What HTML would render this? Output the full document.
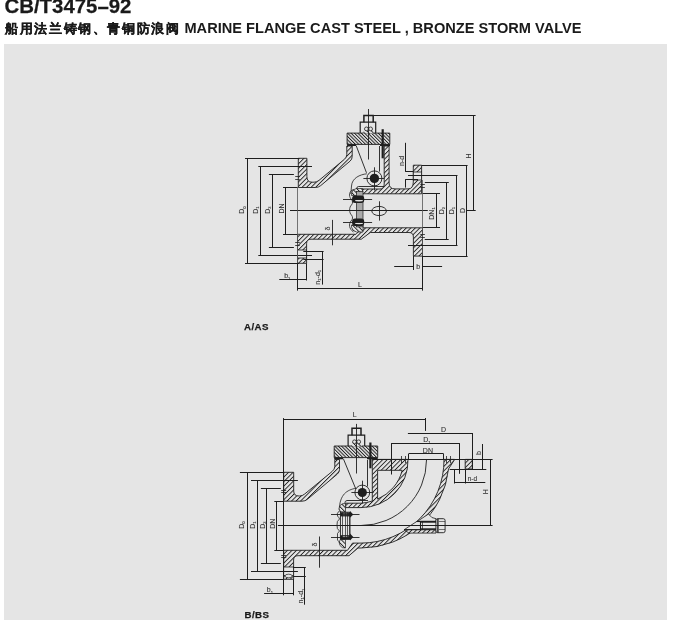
<!DOCTYPE html>
<html><head><meta charset="utf-8">
<style>
html,body{margin:0;padding:0;background:#fff;width:689px;height:620px;overflow:hidden}
body{position:relative;will-change:transform;font-family:"Liberation Sans",sans-serif;color:#1a1a1a}
.t1{position:absolute;left:4.5px;top:-3.6px;font-size:20.4px;font-weight:bold;-webkit-text-stroke:0.25px #1a1a1a;white-space:nowrap;line-height:20px}
.t2{position:absolute;left:4px;top:19px;font-size:14.6px;font-weight:bold;white-space:nowrap;line-height:18px}
.cj{font-size:13.4px;letter-spacing:1.6px;-webkit-text-stroke:0.2px #1a1a1a;margin-left:1.2px}
.box{position:absolute;left:4px;top:44px;width:663px;height:576px;background:#e5e5e5}
.lab{position:absolute;font-size:9.7px;letter-spacing:0.4px;-webkit-text-stroke:0.25px #1a1a1a;font-weight:bold;white-space:nowrap;line-height:10px}
svg{position:absolute;left:0;top:0}
</style></head><body>
<div class="t1">CB/T3475–92</div>
<div class="t2"><span class="cj">船用法兰铸钢、青铜防浪阀</span> MARINE FLANGE CAST STEEL , BRONZE STORM VALVE</div>
<div class="box"></div>
<div class="lab" style="left:244px;top:322.3px">A/AS</div>
<div class="lab" style="left:244.5px;top:610.3px">B/BS</div>
<svg width="689" height="620" viewBox="0 0 689 620" font-family="Liberation Sans, sans-serif">
<defs>
<pattern id="h1" width="3.2" height="3.2" patternUnits="userSpaceOnUse" patternTransform="rotate(45)"><rect width="3.2" height="3.2" fill="#e5e5e5"/><rect x="0" y="0" width="0.9" height="3.2" fill="#1e1e1e"/></pattern>
<pattern id="h2" width="3.2" height="3.2" patternUnits="userSpaceOnUse" patternTransform="rotate(-45)"><rect width="3.2" height="3.2" fill="#e5e5e5"/><rect x="0" y="0" width="0.9" height="3.2" fill="#1e1e1e"/></pattern>
<pattern id="h3" width="2.4" height="2.4" patternUnits="userSpaceOnUse" patternTransform="rotate(-45)"><rect width="2.4" height="2.4" fill="#e5e5e5"/><rect x="0" y="0" width="0.95" height="2.4" fill="#1e1e1e"/></pattern>
</defs>
<path d="M298.3,158.3 H306.9 V176.5 Q306.9,182.2 312,182.2 H314 Q316.8,182.2 319.1,180.3 L344.5,159.2 Q346.8,157.3 346.8,154.5 V146 H352.2 V156.5 Q352.2,159.3 350,161.2 L320.7,185.6 Q318.4,187.5 315.5,187.5 H298.3 Z" fill="url(#h1)" stroke="#1e1e1e" stroke-width="0.9"/>
<path d="M347.1,133.1 H389.8 V144.4 H347.1 Z" fill="url(#h3)" stroke="#1e1e1e" stroke-width="0.9"/>
<rect x="347.1" y="144.2" width="9" height="1.8" fill="#1e1e1e" stroke="none" stroke-width="1"/>
<rect x="380" y="144.2" width="10" height="1.8" fill="#1e1e1e" stroke="none" stroke-width="1"/>
<path d="M384.2,146 H389.1 V183 Q389.1,188.9 395,188.9 H408 Q413.3,188.9 413.3,182 V165.2 H421.6 V193.8 H362 V189 H380 Q384.2,189 384.2,184 Z" fill="url(#h1)" stroke="#1e1e1e" stroke-width="0.9"/>
<rect x="413.3" y="172" width="8.3" height="8" fill="#e5e5e5" stroke="#1e1e1e" stroke-width="0.8"/>
<path d="M297.5,234.3 H356 L362,227.8 H422.5 V256.1 H413.4 V237 Q413.4,232.5 409,232.5 H370.3 L361.3,239.2 H311 Q306.6,239.2 306.6,243.5 V263.3 H297.5 Z" fill="url(#h1)" stroke="#1e1e1e" stroke-width="0.9"/>
<rect x="297.5" y="250" width="9.1" height="8" fill="#e5e5e5" stroke="#1e1e1e" stroke-width="0.8"/>
<path d="M360.2,133.1 V122.2 H375.7 V133.1" fill="none" stroke="#1e1e1e" stroke-width="1.2" />
<path d="M363.90000000000003,122.2 V115.5 H373.2 V122.2" fill="none" stroke="#1e1e1e" stroke-width="1.5" />
<path d="M363.0,133.6 Q363.5,130.1 366.0,127.3 H371.0 Q373.5,130.1 374.0,133.6 Z" fill="url(#h2)" stroke="#1e1e1e" stroke-width="0"/>
<circle cx="366.4" cy="128.9" r="1.9" fill="#e5e5e5" stroke="#1e1e1e" stroke-width="0.8"/>
<circle cx="370.6" cy="128.9" r="1.9" fill="#e5e5e5" stroke="#1e1e1e" stroke-width="0.8"/>
<circle cx="374.4" cy="178.4" r="7.5" fill="#e5e5e5" stroke="#1e1e1e" stroke-width="0.9"/>
<circle cx="374.4" cy="178.4" r="4.7" fill="#1e1e1e"/>
<path d="M366.8,173.8 C360,174.5 352,178 351.5,186 L350.8,194" fill="none" stroke="#1e1e1e" stroke-width="0.8" />
<path d="M384,186.5 H358.5 Q356.5,186.5 356.5,189.5" fill="none" stroke="#1e1e1e" stroke-width="0.9" />
<path d="M351.5,193.5 Q352,189 356.5,188.5 H362.6 V195.5 H351.5 Z" fill="url(#h2)" stroke="#1e1e1e" stroke-width="0.7"/>
<path d="M351.5,225 H363 V232 H356.5 Q352,231 351.5,227 Z" fill="url(#h2)" stroke="#1e1e1e" stroke-width="0.7"/>
<rect x="356.5" y="191.5" width="6.5" height="35.4" fill="#a9a9a9" stroke="#1e1e1e" stroke-width="0.7"/>
<path d="M353.5,189.5 C349,191 348.5,196 351,199 C353,201 353,203 351.5,205 C349,207 349,213 351.5,215 C353,217 353,219 351,221 C348.5,224 349,229 353.5,232" fill="none" stroke="#1e1e1e" stroke-width="0.8" />
<rect x="352.1" y="195.5" width="12.1" height="7.6" rx="3" fill="#1e1e1e"/>
<rect x="352.1" y="218.5" width="12.1" height="7.6" rx="3" fill="#1e1e1e"/>
<ellipse cx="359" cy="200.6" rx="4" ry="0.9" fill="#e5e5e5"/>
<ellipse cx="359" cy="223.3" rx="4" ry="0.9" fill="#e5e5e5"/>
<ellipse cx="379.1" cy="211" rx="7.3" ry="4.6" fill="none" stroke="#1e1e1e" stroke-width="0.9"/>
<text transform="translate(244.4,210) rotate(-90)" font-size="7" fill="#2e2e2e" stroke="#2e2e2e" stroke-width="0.08" text-anchor="middle"><tspan>D</tspan><tspan font-size="4.2" dy="1.2">0</tspan></text>
<text transform="translate(257.9,210) rotate(-90)" font-size="7" fill="#2e2e2e" stroke="#2e2e2e" stroke-width="0.08" text-anchor="middle"><tspan>D</tspan><tspan font-size="4.2" dy="1.2">1</tspan></text>
<text transform="translate(270.2,210) rotate(-90)" font-size="7" fill="#2e2e2e" stroke="#2e2e2e" stroke-width="0.08" text-anchor="middle"><tspan>D</tspan><tspan font-size="4.2" dy="1.2">2</tspan></text>
<text transform="translate(284,208.5) rotate(-90)" font-size="7" fill="#2e2e2e" stroke="#2e2e2e" stroke-width="0.08" text-anchor="middle"><tspan>DN</tspan></text>
<text transform="translate(433.5,213.5) rotate(-90)" font-size="7" fill="#2e2e2e" stroke="#2e2e2e" stroke-width="0.08" text-anchor="middle"><tspan>DN</tspan><tspan font-size="4.2" dy="1.2">1</tspan></text>
<text transform="translate(443.5,210.5) rotate(-90)" font-size="7" fill="#2e2e2e" stroke="#2e2e2e" stroke-width="0.08" text-anchor="middle"><tspan>D</tspan><tspan font-size="4.2" dy="1.2">2</tspan></text>
<text transform="translate(453.5,210.5) rotate(-90)" font-size="7" fill="#2e2e2e" stroke="#2e2e2e" stroke-width="0.08" text-anchor="middle"><tspan>D</tspan><tspan font-size="4.2" dy="1.2">1</tspan></text>
<text transform="translate(464.5,210.5) rotate(-90)" font-size="7" fill="#2e2e2e" stroke="#2e2e2e" stroke-width="0.08" text-anchor="middle"><tspan>D</tspan></text>
<text transform="translate(470.5,156) rotate(-90)" font-size="7" fill="#2e2e2e" stroke="#2e2e2e" stroke-width="0.08" text-anchor="middle"><tspan>H</tspan></text>
<text transform="translate(403.8,161) rotate(-90)" font-size="7" fill="#2e2e2e" stroke="#2e2e2e" stroke-width="0.08" text-anchor="middle"><tspan>n-d</tspan></text>
<text transform="translate(320.1,277.3) rotate(-90)" font-size="7" fill="#2e2e2e" stroke="#2e2e2e" stroke-width="0.08" text-anchor="middle"><tspan>n₁-d</tspan><tspan font-size="4.2" dy="1.2">1</tspan></text>
<text x="287.3" y="278" font-size="7" fill="#2e2e2e" stroke="#2e2e2e" stroke-width="0.08" text-anchor="middle"><tspan>b</tspan><tspan font-size="4.2" dy="1.5">1</tspan></text>
<text x="418.2" y="269" font-size="7" fill="#2e2e2e" stroke="#2e2e2e" stroke-width="0.08" text-anchor="middle"><tspan>b</tspan></text>
<text x="360" y="287" font-size="7" fill="#2e2e2e" stroke="#2e2e2e" stroke-width="0.08" text-anchor="middle"><tspan>L</tspan></text>
<text transform="translate(330,228.6) rotate(-90)" font-size="7" fill="#2e2e2e" stroke="#2e2e2e" stroke-width="0.08" text-anchor="middle"><tspan>δ</tspan></text>
<path d="M283.7,472.3 H293.7 V491 Q293.7,496 299,496 H299.5 Q302.4,496 304.7,494 L332.1,471.5 Q334.8,469.3 334.8,466.5 V459.5 H339.5 V469.5 Q339.5,472.2 337.3,474.1 L307.4,499.3 Q305.2,501.2 302,501.2 H283.7 Z" fill="url(#h1)" stroke="#1e1e1e" stroke-width="0.9"/>
<path d="M334.2,446 H377.7 V457.6 H334.2 Z" fill="url(#h3)" stroke="#1e1e1e" stroke-width="0.9"/>
<rect x="334.2" y="457.4" width="9" height="1.9" fill="#1e1e1e" stroke="none" stroke-width="1"/>
<rect x="367" y="457.4" width="10.7" height="1.9" fill="#1e1e1e" stroke="none" stroke-width="1"/>
<path d="M348.1,446 V435.2 H364.7 V446" fill="none" stroke="#1e1e1e" stroke-width="1.2" />
<path d="M352.0,435.2 V428.3 H361.0 V435.2" fill="none" stroke="#1e1e1e" stroke-width="1.5" />
<path d="M351.1,446.5 Q351.6,443 354.1,440.2 H359.1 Q361.6,443 362.1,446.5 Z" fill="url(#h2)" stroke="#1e1e1e" stroke-width="0"/>
<circle cx="354.5" cy="441.8" r="1.9" fill="#e5e5e5" stroke="#1e1e1e" stroke-width="0.8"/>
<circle cx="358.70000000000005" cy="441.8" r="1.9" fill="#e5e5e5" stroke="#1e1e1e" stroke-width="0.8"/>
<path d="M372.3,459.4 H408 A47,47 0 0,1 361,507.6 H346 Q344.5,505.5 346,503.2 H361 A42.5,42.5 0 0,0 372.3,501.0 Z" fill="url(#h1)" stroke="#1e1e1e" stroke-width="0.9"/>
<path d="M377.6,470.3 H402.2 A42.5,42.5 0 0,1 377.6,499.1 Z" fill="#e5e5e5" stroke="#1e1e1e" stroke-width="0.9" />
<path d="M283.7,550.3 H347.5 L352.5,543.1 H361 A83,83 0 0,0 444,459.4 H454.7 L448.5,469 A88,88 0 0,1 361,548 H358 L349,555.7 H298 Q293.6,555.7 293.6,560 V579.3 H283.7 Z" fill="url(#h1)" stroke="#1e1e1e" stroke-width="0.9"/>
<rect x="283.7" y="567" width="9.9" height="8.5" fill="#e5e5e5" stroke="#1e1e1e" stroke-width="0.8"/>
<ellipse cx="288.6" cy="576" rx="3.6" ry="1.8" fill="#e5e5e5" stroke="#1e1e1e" stroke-width="0.7"/>
<path d="M465.2,459.4 H472.3 V469 H465.2 Z" fill="url(#h1)" stroke="#1e1e1e" stroke-width="0.9"/>
<path d="M426.5,460 A65.5,65.5 0 0,1 361,525.5" fill="none" stroke="#1e1e1e" stroke-width="0.9" />
<path d="M428.5,514 Q431.5,518.7 436,518.7 V521.3 H417.5 Z" fill="#e5e5e5" stroke="#1e1e1e" stroke-width="0.8" />
<path d="M403.5,530 L417,521.3 H436 V530 Z" fill="#e5e5e5" stroke="none" stroke-width="1" />
<path d="M404,529.8 H436 V533.1 H409 Z" fill="url(#h1)" stroke="#1e1e1e" stroke-width="0.8"/>
<rect x="435.9" y="518.7" width="9.2" height="14" rx="1.8" fill="#e5e5e5" stroke="#1e1e1e" stroke-width="0.9"/>
<circle cx="362.3" cy="492.5" r="7.4" fill="#e5e5e5" stroke="#1e1e1e" stroke-width="0.9"/>
<circle cx="362.3" cy="492.5" r="4.6" fill="#1e1e1e"/>
<path d="M356,488.2 C347,490 339.8,494 339.2,510" fill="none" stroke="#1e1e1e" stroke-width="0.8" />
<path d="M368,500.5 H347 Q344.8,500.6 344.8,503.5" fill="none" stroke="#1e1e1e" stroke-width="0.9" />
<path d="M340.4,512 Q338,509 340,505.5 Q342,503 345.5,503.5 V512 Z" fill="url(#h2)" stroke="#1e1e1e" stroke-width="0.7"/>
<path d="M340.4,539.5 H345.5 V548 Q342,548.5 340,545.5 Q338,542 340.4,539.5 Z" fill="url(#h2)" stroke="#1e1e1e" stroke-width="0.7"/>
<rect x="340.4" y="512.2" width="9.6" height="27.2" fill="#e5e5e5" stroke="#1e1e1e" stroke-width="0.9"/>
<path d="M339.3,511 Q336.5,513 337.5,516 Q339.5,518 339.5,519 Q336.5,521 337,525 Q336.5,529 339.5,531 Q336.5,533 337.5,537 Q336.5,541 339.5,542" fill="none" stroke="#1e1e1e" stroke-width="0.8" />
<rect x="340.4" y="512.6" width="9.6" height="3.8" fill="#1e1e1e"/>
<rect x="342.3" y="513.8000000000001" width="6" height="1.3" fill="#e5e5e5"/>
<path d="M350,511.0 L353.3,514.5 L350,517.8000000000001 Z" fill="#1e1e1e"/>
<rect x="340.4" y="535.2" width="9.6" height="3.8" fill="#1e1e1e"/>
<rect x="342.3" y="536.4000000000001" width="6" height="1.3" fill="#e5e5e5"/>
<path d="M350,533.6 L353.3,537.1 L350,540.4000000000001 Z" fill="#1e1e1e"/>
<text transform="translate(244.2,525) rotate(-90)" font-size="7" fill="#2e2e2e" stroke="#2e2e2e" stroke-width="0.08" text-anchor="middle"><tspan>D</tspan><tspan font-size="4.2" dy="1.2">0</tspan></text>
<text transform="translate(255,525) rotate(-90)" font-size="7" fill="#2e2e2e" stroke="#2e2e2e" stroke-width="0.08" text-anchor="middle"><tspan>D</tspan><tspan font-size="4.2" dy="1.2">1</tspan></text>
<text transform="translate(264.8,525) rotate(-90)" font-size="7" fill="#2e2e2e" stroke="#2e2e2e" stroke-width="0.08" text-anchor="middle"><tspan>D</tspan><tspan font-size="4.2" dy="1.2">2</tspan></text>
<text transform="translate(274.5,523.7) rotate(-90)" font-size="7" fill="#2e2e2e" stroke="#2e2e2e" stroke-width="0.08" text-anchor="middle"><tspan>DN</tspan></text>
<text transform="translate(488,491.6) rotate(-90)" font-size="7" fill="#2e2e2e" stroke="#2e2e2e" stroke-width="0.08" text-anchor="middle"><tspan>H</tspan></text>
<text x="472.4" y="481" font-size="6.5" fill="#2e2e2e" stroke="#2e2e2e" stroke-width="0.08" text-anchor="middle"><tspan>n-d</tspan></text>
<text transform="translate(481,453) rotate(-90)" font-size="7" fill="#2e2e2e" stroke="#2e2e2e" stroke-width="0.08" text-anchor="middle"><tspan>b</tspan></text>
<text x="443.6" y="432.4" font-size="7" fill="#2e2e2e" stroke="#2e2e2e" stroke-width="0.08" text-anchor="middle"><tspan>D</tspan></text>
<text x="427" y="442" font-size="7" fill="#2e2e2e" stroke="#2e2e2e" stroke-width="0.08" text-anchor="middle"><tspan>D</tspan><tspan font-size="4.2" dy="1.5">1</tspan></text>
<text x="427.9" y="452.5" font-size="7" fill="#2e2e2e" stroke="#2e2e2e" stroke-width="0.08" text-anchor="middle"><tspan>DN</tspan></text>
<text transform="translate(303.3,596) rotate(-90)" font-size="7" fill="#2e2e2e" stroke="#2e2e2e" stroke-width="0.08" text-anchor="middle"><tspan>n₁-d</tspan><tspan font-size="4.2" dy="1.2">1</tspan></text>
<text x="269.9" y="592" font-size="7" fill="#2e2e2e" stroke="#2e2e2e" stroke-width="0.08" text-anchor="middle"><tspan>b</tspan><tspan font-size="4.2" dy="1.5">1</tspan></text>
<text x="354.8" y="416.5" font-size="7" fill="#2e2e2e" stroke="#2e2e2e" stroke-width="0.08" text-anchor="middle"><tspan>L</tspan></text>
<text transform="translate(317.2,544.6) rotate(-90)" font-size="7" fill="#2e2e2e" stroke="#2e2e2e" stroke-width="0.08" text-anchor="middle"><tspan>δ</tspan></text>
<line x1="245" y1="158.5" x2="299" y2="158.5" stroke="#1e1e1e" stroke-width="1"/>
<line x1="247.5" y1="158.4" x2="247.5" y2="263.3" stroke="#1e1e1e" stroke-width="1"/>
<line x1="245" y1="263.5" x2="299" y2="263.5" stroke="#1e1e1e" stroke-width="1"/>
<line x1="258.3" y1="166.5" x2="312" y2="166.5" stroke="#1e1e1e" stroke-width="1"/>
<line x1="260.5" y1="166.4" x2="260.5" y2="255.3" stroke="#1e1e1e" stroke-width="1"/>
<line x1="258.3" y1="255.5" x2="312" y2="255.5" stroke="#1e1e1e" stroke-width="1"/>
<line x1="268.9" y1="174.5" x2="293.9" y2="174.5" stroke="#1e1e1e" stroke-width="1"/>
<line x1="272.5" y1="174.4" x2="272.5" y2="247.3" stroke="#1e1e1e" stroke-width="1"/>
<line x1="268.9" y1="247.5" x2="293.9" y2="247.5" stroke="#1e1e1e" stroke-width="1"/>
<line x1="283" y1="187.5" x2="297.5" y2="187.5" stroke="#1e1e1e" stroke-width="1"/>
<line x1="285.5" y1="187.2" x2="285.5" y2="234.1" stroke="#1e1e1e" stroke-width="1"/>
<line x1="283" y1="234.5" x2="297.5" y2="234.5" stroke="#1e1e1e" stroke-width="1"/>
<line x1="290" y1="210.5" x2="427.8" y2="210.5" stroke="#1e1e1e" stroke-width="1"/>
<line x1="467" y1="210.5" x2="475.7" y2="210.5" stroke="#1e1e1e" stroke-width="1"/>
<line x1="297.5" y1="187" x2="297.5" y2="290.5" stroke="#555" stroke-width="0.8"/>
<line x1="422.5" y1="180" x2="422.5" y2="290.5" stroke="#555" stroke-width="0.8"/>
<line x1="297.5" y1="263" x2="297.5" y2="290.5" stroke="#1e1e1e" stroke-width="1"/>
<line x1="422.5" y1="256" x2="422.5" y2="290.5" stroke="#1e1e1e" stroke-width="1"/>
<line x1="297.5" y1="288.5" x2="422.6" y2="288.5" stroke="#1e1e1e" stroke-width="1"/>
<line x1="279.3" y1="279.5" x2="306.6" y2="279.5" stroke="#1e1e1e" stroke-width="1"/>
<line x1="306.5" y1="263.3" x2="306.5" y2="280.5" stroke="#1e1e1e" stroke-width="1"/>
<line x1="303.3" y1="251.5" x2="323.6" y2="251.5" stroke="#1e1e1e" stroke-width="1"/>
<line x1="303.3" y1="259.5" x2="323.6" y2="259.5" stroke="#1e1e1e" stroke-width="1"/>
<line x1="322.5" y1="251.2" x2="322.5" y2="284.6" stroke="#1e1e1e" stroke-width="1"/>
<line x1="394.2" y1="266.5" x2="413.4" y2="266.5" stroke="#1e1e1e" stroke-width="1"/>
<line x1="422.6" y1="266.5" x2="442.1" y2="266.5" stroke="#1e1e1e" stroke-width="1"/>
<line x1="413.5" y1="256" x2="413.5" y2="270" stroke="#1e1e1e" stroke-width="1"/>
<line x1="421.6" y1="165.5" x2="467.6" y2="165.5" stroke="#1e1e1e" stroke-width="1"/>
<line x1="466.5" y1="165.3" x2="466.5" y2="256.6" stroke="#1e1e1e" stroke-width="1"/>
<line x1="422.6" y1="256.5" x2="467.6" y2="256.5" stroke="#1e1e1e" stroke-width="1"/>
<line x1="408" y1="175.5" x2="457.5" y2="175.5" stroke="#1e1e1e" stroke-width="1"/>
<line x1="456.5" y1="175.4" x2="456.5" y2="245.3" stroke="#1e1e1e" stroke-width="1"/>
<line x1="408" y1="245.5" x2="457.5" y2="245.5" stroke="#1e1e1e" stroke-width="1"/>
<line x1="424.8" y1="182.5" x2="448.8" y2="182.5" stroke="#1e1e1e" stroke-width="1"/>
<line x1="446.5" y1="182.3" x2="446.5" y2="239.4" stroke="#1e1e1e" stroke-width="1"/>
<line x1="424.7" y1="239.5" x2="448.7" y2="239.5" stroke="#1e1e1e" stroke-width="1"/>
<line x1="422.7" y1="193.5" x2="440" y2="193.5" stroke="#1e1e1e" stroke-width="1"/>
<line x1="436.5" y1="193.3" x2="436.5" y2="227.8" stroke="#1e1e1e" stroke-width="1"/>
<line x1="422.7" y1="227.5" x2="440" y2="227.5" stroke="#1e1e1e" stroke-width="1"/>
<line x1="373.8" y1="115.5" x2="475.6" y2="115.5" stroke="#1e1e1e" stroke-width="1"/>
<line x1="473.5" y1="115.3" x2="473.5" y2="210.5" stroke="#1e1e1e" stroke-width="1"/>
<line x1="405.5" y1="142.8" x2="405.5" y2="171.2" stroke="#1e1e1e" stroke-width="1"/>
<line x1="405.1" y1="171.5" x2="413.3" y2="171.5" stroke="#1e1e1e" stroke-width="1"/>
<line x1="405.5" y1="179.8" x2="405.5" y2="187.6" stroke="#1e1e1e" stroke-width="1"/>
<line x1="405.1" y1="179.5" x2="418" y2="179.5" stroke="#1e1e1e" stroke-width="1"/>
<line x1="379.5" y1="146" x2="379.5" y2="171.6" stroke="#1e1e1e" stroke-width="0.9"/>
<line x1="368.5" y1="109" x2="368.5" y2="159.5" stroke="#1e1e1e" stroke-width="0.9"/>
<line x1="382.7" y1="129.2" x2="382.7" y2="158.3" stroke="#1e1e1e" stroke-width="2.2"/>
<line x1="356.2" y1="145.7" x2="366.5" y2="172.8" stroke="#1e1e1e" stroke-width="0.9"/>
<line x1="363.4" y1="178.5" x2="384.4" y2="178.5" stroke="#1e1e1e" stroke-width="0.9"/>
<line x1="374.5" y1="167.3" x2="374.5" y2="190.5" stroke="#1e1e1e" stroke-width="0.9"/>
<line x1="343" y1="199.5" x2="372.1" y2="199.5" stroke="#1e1e1e" stroke-width="0.9"/>
<line x1="343" y1="222.5" x2="372.1" y2="222.5" stroke="#1e1e1e" stroke-width="0.9"/>
<line x1="379.5" y1="201.3" x2="379.5" y2="220.6" stroke="#1e1e1e" stroke-width="0.9"/>
<line x1="332.5" y1="219.9" x2="332.5" y2="245.3" stroke="#1e1e1e" stroke-width="0.9"/>
<line x1="295.2" y1="176.5" x2="299.8" y2="176.5" stroke="#1e1e1e" stroke-width="0.8"/>
<line x1="295.2" y1="179.5" x2="299.8" y2="179.5" stroke="#1e1e1e" stroke-width="0.8"/>
<line x1="295.2" y1="242.5" x2="299.8" y2="242.5" stroke="#1e1e1e" stroke-width="0.8"/>
<line x1="295.2" y1="245.5" x2="299.8" y2="245.5" stroke="#1e1e1e" stroke-width="0.8"/>
<line x1="420.3" y1="184.5" x2="424.90000000000003" y2="184.5" stroke="#1e1e1e" stroke-width="0.8"/>
<line x1="420.3" y1="187.5" x2="424.90000000000003" y2="187.5" stroke="#1e1e1e" stroke-width="0.8"/>
<line x1="420.3" y1="234.5" x2="424.90000000000003" y2="234.5" stroke="#1e1e1e" stroke-width="0.8"/>
<line x1="420.3" y1="237.5" x2="424.90000000000003" y2="237.5" stroke="#1e1e1e" stroke-width="0.8"/>
<line x1="283.5" y1="418.1" x2="283.5" y2="472.3" stroke="#1e1e1e" stroke-width="1"/>
<line x1="283.7" y1="419.5" x2="425" y2="419.5" stroke="#1e1e1e" stroke-width="1"/>
<line x1="425.5" y1="418" x2="425.5" y2="430.9" stroke="#1e1e1e" stroke-width="1"/>
<line x1="239.9" y1="472.5" x2="283.7" y2="472.5" stroke="#1e1e1e" stroke-width="1"/>
<line x1="247.5" y1="472.3" x2="247.5" y2="579.3" stroke="#1e1e1e" stroke-width="1"/>
<line x1="239.9" y1="579.5" x2="283.7" y2="579.5" stroke="#1e1e1e" stroke-width="1"/>
<line x1="251" y1="480.5" x2="297.9" y2="480.5" stroke="#1e1e1e" stroke-width="1"/>
<line x1="257.5" y1="480.3" x2="257.5" y2="571.4" stroke="#1e1e1e" stroke-width="1"/>
<line x1="251" y1="571.5" x2="297.9" y2="571.5" stroke="#1e1e1e" stroke-width="1"/>
<line x1="260.9" y1="488.5" x2="280.8" y2="488.5" stroke="#1e1e1e" stroke-width="1"/>
<line x1="266.5" y1="488.3" x2="266.5" y2="563.4" stroke="#1e1e1e" stroke-width="1"/>
<line x1="260.9" y1="563.5" x2="280.8" y2="563.5" stroke="#1e1e1e" stroke-width="1"/>
<line x1="274.3" y1="501.5" x2="283.7" y2="501.5" stroke="#1e1e1e" stroke-width="1"/>
<line x1="276.5" y1="501.4" x2="276.5" y2="550.3" stroke="#1e1e1e" stroke-width="1"/>
<line x1="274.3" y1="550.5" x2="283.7" y2="550.5" stroke="#1e1e1e" stroke-width="1"/>
<line x1="277.9" y1="525.5" x2="492.6" y2="525.5" stroke="#1e1e1e" stroke-width="1"/>
<line x1="283.5" y1="472" x2="283.5" y2="595.3" stroke="#1e1e1e" stroke-width="1"/>
<line x1="293.5" y1="579" x2="293.5" y2="595.3" stroke="#1e1e1e" stroke-width="1"/>
<line x1="264.1" y1="593.5" x2="293.6" y2="593.5" stroke="#1e1e1e" stroke-width="1"/>
<line x1="293" y1="567.5" x2="305.8" y2="567.5" stroke="#1e1e1e" stroke-width="1"/>
<line x1="293" y1="576.5" x2="305.8" y2="576.5" stroke="#1e1e1e" stroke-width="1"/>
<line x1="304.5" y1="567" x2="304.5" y2="604.7" stroke="#1e1e1e" stroke-width="1"/>
<line x1="319.5" y1="536.5" x2="319.5" y2="567.7" stroke="#1e1e1e" stroke-width="0.9"/>
<line x1="407.9" y1="433.5" x2="472.3" y2="433.5" stroke="#1e1e1e" stroke-width="1"/>
<line x1="472.5" y1="433" x2="472.5" y2="469.2" stroke="#1e1e1e" stroke-width="1"/>
<line x1="391.3" y1="443.5" x2="459.6" y2="443.5" stroke="#1e1e1e" stroke-width="1"/>
<line x1="391.5" y1="443.1" x2="391.5" y2="474.5" stroke="#1e1e1e" stroke-width="1"/>
<line x1="459.5" y1="443.1" x2="459.5" y2="473.8" stroke="#1e1e1e" stroke-width="1"/>
<line x1="408.7" y1="453.5" x2="443.5" y2="453.5" stroke="#1e1e1e" stroke-width="1"/>
<line x1="408.5" y1="453.7" x2="408.5" y2="459.4" stroke="#1e1e1e" stroke-width="1"/>
<line x1="443.5" y1="453.7" x2="443.5" y2="459.4" stroke="#1e1e1e" stroke-width="1"/>
<line x1="372.3" y1="459.5" x2="492.6" y2="459.5" stroke="#1e1e1e" stroke-width="1"/>
<line x1="449.7" y1="469.5" x2="486.3" y2="469.5" stroke="#1e1e1e" stroke-width="1"/>
<line x1="482.5" y1="444" x2="482.5" y2="469.2" stroke="#1e1e1e" stroke-width="1"/>
<line x1="454.5" y1="469" x2="454.5" y2="483.5" stroke="#1e1e1e" stroke-width="1"/>
<line x1="465.5" y1="469" x2="465.5" y2="483.5" stroke="#1e1e1e" stroke-width="1"/>
<line x1="454.4" y1="482.5" x2="485.3" y2="482.5" stroke="#1e1e1e" stroke-width="1"/>
<line x1="490.5" y1="459.4" x2="490.5" y2="525.5" stroke="#1e1e1e" stroke-width="1"/>
<line x1="356.5" y1="423.9" x2="356.5" y2="473.5" stroke="#1e1e1e" stroke-width="0.9"/>
<line x1="370.4" y1="442.5" x2="370.4" y2="468.3" stroke="#1e1e1e" stroke-width="2.2"/>
<line x1="343.5" y1="459.1" x2="355.9" y2="489.2" stroke="#1e1e1e" stroke-width="0.9"/>
<line x1="367.5" y1="460" x2="367.5" y2="486.5" stroke="#1e1e1e" stroke-width="0.9"/>
<line x1="404" y1="529.5" x2="436" y2="529.5" stroke="#1e1e1e" stroke-width="0.9"/>
<line x1="416.8" y1="521.5" x2="436" y2="521.5" stroke="#1e1e1e" stroke-width="1.1"/>
<line x1="404" y1="529.8" x2="417" y2="521.3" stroke="#1e1e1e" stroke-width="0.8"/>
<line x1="420.5" y1="521.3" x2="420.5" y2="530" stroke="#1e1e1e" stroke-width="1.1"/>
<line x1="422.5" y1="521.3" x2="422.5" y2="530" stroke="#1e1e1e" stroke-width="0.7"/>
<line x1="420.5" y1="522.5" x2="436" y2="522.5" stroke="#1e1e1e" stroke-width="0.7"/>
<line x1="420.5" y1="528.5" x2="436" y2="528.5" stroke="#1e1e1e" stroke-width="0.7"/>
<line x1="437.5" y1="518.7" x2="437.5" y2="532.7" stroke="#1e1e1e" stroke-width="0.8"/>
<line x1="438.5" y1="518.7" x2="438.5" y2="532.7" stroke="#1e1e1e" stroke-width="0.6"/>
<line x1="438.8" y1="521.5" x2="445" y2="521.5" stroke="#1e1e1e" stroke-width="0.6"/>
<line x1="438.8" y1="529.5" x2="445" y2="529.5" stroke="#1e1e1e" stroke-width="0.6"/>
<line x1="351.4" y1="492.5" x2="373.6" y2="492.5" stroke="#1e1e1e" stroke-width="0.9"/>
<line x1="362.5" y1="480.7" x2="362.5" y2="503.5" stroke="#1e1e1e" stroke-width="0.9"/>
<line x1="342.5" y1="512.5" x2="342.5" y2="539" stroke="#1e1e1e" stroke-width="0.7"/>
<line x1="345.5" y1="512.5" x2="345.5" y2="539" stroke="#1e1e1e" stroke-width="0.7"/>
<line x1="347.5" y1="512.5" x2="347.5" y2="539" stroke="#1e1e1e" stroke-width="0.7"/>
<line x1="349.5" y1="512.5" x2="349.5" y2="539" stroke="#1e1e1e" stroke-width="0.7"/>
<line x1="331" y1="514.5" x2="359.5" y2="514.5" stroke="#1e1e1e" stroke-width="0.9"/>
<line x1="331" y1="537.5" x2="359.5" y2="537.5" stroke="#1e1e1e" stroke-width="0.9"/>
<line x1="281.2" y1="490.5" x2="286.2" y2="490.5" stroke="#1e1e1e" stroke-width="0.8"/>
<line x1="281.2" y1="492.5" x2="286.2" y2="492.5" stroke="#1e1e1e" stroke-width="0.8"/>
<line x1="281.2" y1="555.5" x2="286.2" y2="555.5" stroke="#1e1e1e" stroke-width="0.8"/>
<line x1="281.2" y1="557.5" x2="286.2" y2="557.5" stroke="#1e1e1e" stroke-width="0.8"/>
<line x1="401.5" y1="456" x2="401.5" y2="463" stroke="#1e1e1e" stroke-width="0.8"/>
<line x1="405.5" y1="456" x2="405.5" y2="463" stroke="#1e1e1e" stroke-width="0.8"/>
<line x1="446.5" y1="456" x2="446.5" y2="463" stroke="#1e1e1e" stroke-width="0.8"/>
<line x1="450.5" y1="456" x2="450.5" y2="463" stroke="#1e1e1e" stroke-width="0.8"/>
</svg>
</body></html>
